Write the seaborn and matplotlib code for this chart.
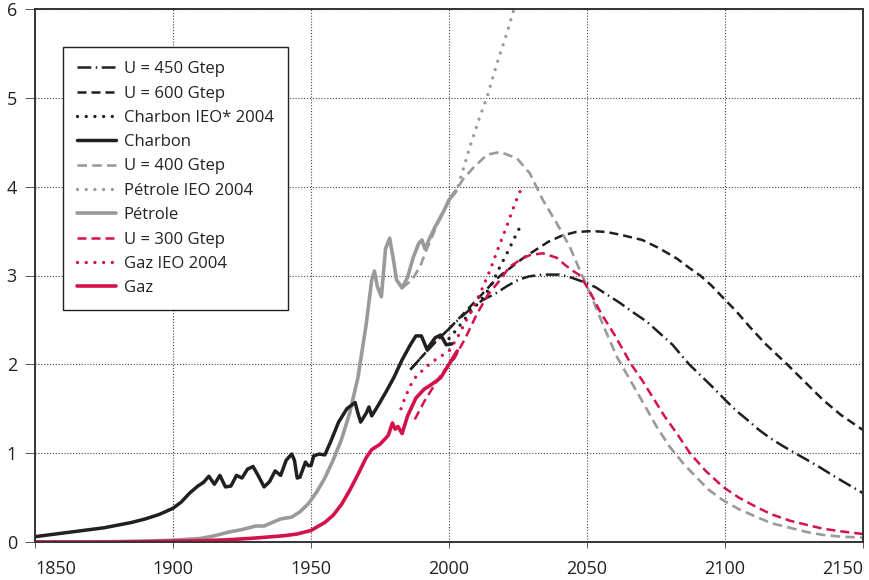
import matplotlib
matplotlib.use("Agg")
import matplotlib.pyplot as plt
import seaborn as sns
import pandas as pd

# ---------------- data (Gtep / an) ----------------
charbon_years = [1850, 1855, 1860, 1865, 1870, 1875, 1880, 1885, 1890, 1895, 1900, 1903, 1906,
                 1909, 1911, 1913, 1915, 1917, 1919, 1921, 1923, 1925, 1927, 1929, 1931, 1933,
                 1935, 1937, 1939, 1941, 1943, 1944, 1945, 1946, 1948, 1949, 1950, 1951, 1953,
                 1955, 1957, 1960, 1963, 1966, 1967, 1968, 1970, 1971, 1972, 1974, 1977, 1980,
                 1983, 1986, 1988, 1990, 1992, 1995, 1997, 1999, 2001]
charbon_vals = [0.06, 0.08, 0.10, 0.12, 0.14, 0.16, 0.19, 0.22, 0.26, 0.31, 0.38, 0.45, 0.55,
                0.63, 0.67, 0.74, 0.65, 0.75, 0.62, 0.63, 0.75, 0.72, 0.82, 0.85, 0.74, 0.62,
                0.68, 0.80, 0.75, 0.92, 0.99, 0.92, 0.72, 0.73, 0.90, 0.86, 0.86, 0.97, 0.99,
                0.98, 1.12, 1.35, 1.50, 1.57, 1.45, 1.35, 1.45, 1.52, 1.42, 1.52, 1.68, 1.85,
                2.05, 2.22, 2.32, 2.32, 2.17, 2.30, 2.33, 2.22, 2.23]

petrole_years = [1850, 1870, 1890, 1900, 1910, 1915, 1920, 1925, 1930, 1933, 1936, 1939, 1943,
                 1946, 1949, 1952, 1955, 1958, 1961, 1964, 1967, 1970, 1972, 1973, 1974, 1975.5,
                 1977, 1978.5, 1980, 1981, 1983, 1985, 1987, 1989, 1990.2, 1991.3, 1993, 1995,
                 1998, 2000, 2002.5]
petrole_vals = [0.0, 0.0, 0.01, 0.02, 0.04, 0.07, 0.11, 0.14, 0.18, 0.18, 0.22, 0.26, 0.28,
                0.34, 0.43, 0.56, 0.72, 0.92, 1.15, 1.45, 1.85, 2.45, 2.95, 3.05, 2.88, 2.76,
                3.30, 3.42, 3.15, 2.95, 2.86, 2.98, 3.20, 3.36, 3.40, 3.30, 3.42, 3.55,
                3.72, 3.85, 3.95]

gaz_years = [1850, 1880, 1900, 1910, 1920, 1930, 1940, 1945, 1950, 1955, 1958, 1961, 1964, 1967,
             1970, 1972, 1975, 1978, 1979.5, 1980.5, 1981.5, 1983, 1985, 1988, 1991, 1994, 1997,
             2000, 2003]
gaz_vals = [0.0, 0.0, 0.01, 0.015, 0.025, 0.045, 0.07, 0.09, 0.13, 0.22, 0.30, 0.42, 0.58, 0.76,
            0.95, 1.04, 1.10, 1.20, 1.34, 1.27, 1.30, 1.22, 1.42, 1.62, 1.72, 1.78, 1.85,
            2.00, 2.15]

charbon_ieo_years = [2000, 2003, 2006, 2009, 2012, 2015, 2018, 2021, 2024, 2025.8]
charbon_ieo_vals = [2.29, 2.40, 2.52, 2.63, 2.74, 2.87, 3.07, 3.25, 3.44, 3.55]

petrole_ieo_years = [2000, 2002.9, 2004.7, 2007.6, 2011.2, 2013.8, 2017.4, 2021, 2024]
petrole_ieo_vals = [3.85, 3.96, 4.15, 4.45, 4.79, 5.01, 5.39, 5.73, 6.05]

gaz_ieo_years = [1982.6, 1984, 1986, 1988, 1991, 1994, 1997, 2000, 2003, 2006, 2009, 2012, 2015,
                 2018, 2021, 2024, 2025.8]
gaz_ieo_vals = [1.50, 1.62, 1.76, 1.86, 1.95, 2.03, 2.09, 2.15, 2.30, 2.48, 2.65, 2.85, 3.07,
                3.32, 3.56, 3.82, 3.95]

u450_years = [1986, 1990, 1995, 2000, 2004, 2008, 2012, 2017, 2021, 2025, 2029, 2034, 2040,
              2044, 2048.5, 2053, 2057, 2062, 2066, 2071.7, 2076, 2081, 2087, 2091, 2095,
              2100.7, 2104, 2108.3, 2112, 2116.3, 2121, 2125.4, 2130, 2134.4, 2138, 2142.8, 2150]
u450_vals = [1.94, 2.08, 2.25, 2.40, 2.52, 2.63, 2.72, 2.80, 2.88, 2.95, 2.99, 3.01, 3.01,
             2.98, 2.93, 2.87, 2.79, 2.69, 2.60, 2.48, 2.36, 2.22, 2.00, 1.88, 1.76,
             1.58, 1.48, 1.37, 1.27, 1.17, 1.08, 1.00, 0.92, 0.84, 0.77, 0.68, 0.55]

u600_years = [1986, 1990, 1995, 2000, 2004, 2008, 2012, 2015.6, 2019, 2022, 2027, 2032, 2036,
              2041, 2046, 2052, 2057, 2062, 2066, 2070, 2076, 2082.6, 2087.3, 2091, 2095,
              2099.3, 2104, 2109, 2115, 2122.5, 2129, 2135.5, 2142, 2150]
u600_vals = [1.94, 2.08, 2.25, 2.40, 2.53, 2.66, 2.79, 2.91, 3.01, 3.08, 3.20, 3.30, 3.38,
             3.45, 3.49, 3.50, 3.49, 3.46, 3.43, 3.40, 3.31, 3.19, 3.08, 3.00, 2.89,
             2.75, 2.60, 2.42, 2.22, 2.00, 1.80, 1.60, 1.43, 1.26]

u400_years = [1983, 1986.6, 1989.5, 1992, 1995, 1998, 2001, 2003, 2005, 2008.7, 2013.8, 2018.5,
              2024.6, 2029.3, 2034, 2039, 2043.8, 2048.5, 2052.2, 2056, 2060.9, 2065.5, 2070.3,
              2075, 2080, 2085, 2089.9, 2094, 2099.3, 2105, 2111.6, 2117, 2123.5, 2130,
              2135.5, 2142, 2150]
u400_vals = [2.86, 2.95, 3.10, 3.30, 3.52, 3.72, 3.90, 3.98, 4.08, 4.21, 4.36, 4.39,
             4.32, 4.15, 3.85, 3.59, 3.32, 2.98, 2.72, 2.43, 2.08, 1.83, 1.57,
             1.31, 1.07, 0.88, 0.72, 0.59, 0.47, 0.37, 0.28, 0.21, 0.16, 0.11,
             0.08, 0.06, 0.05]

u300_years = [1987.6, 1991, 1995, 1998, 2002, 2006, 2010, 2014, 2018, 2022, 2026, 2029.3, 2034,
              2039, 2042, 2045, 2047.5, 2051, 2055, 2060, 2066, 2070, 2074, 2078, 2082.6,
              2087.3, 2093, 2099.3, 2105, 2111.6, 2117, 2123.5, 2130, 2135.5, 2142, 2150]
u300_vals = [1.38, 1.58, 1.78, 1.92, 2.07, 2.30, 2.56, 2.78, 2.93, 3.10, 3.18, 3.23, 3.25,
             3.20, 3.12, 3.05, 3.00, 2.82, 2.58, 2.33, 2.00, 1.82, 1.62, 1.42, 1.22,
             1.00, 0.80, 0.62, 0.50, 0.39, 0.31, 0.24, 0.19, 0.15, 0.12, 0.09]

x_ticks = [1850, 1900, 1950, 2000, 2050, 2100, 2150]
y_ticks = [0, 1, 2, 3, 4, 5, 6]

# ---------------- style ----------------
BLACK = "#231f20"
GREY = "#9a9a9d"
RED = "#d4124a"

sns.set_theme(style="white")
plt.rcParams["font.family"] = ["Open Sans", "DejaVu Sans"]

fig = plt.figure(figsize=(8.69, 5.80), dpi=100)
ax = fig.add_axes([35 / 869, 38 / 580, 828 / 869, 533 / 580])

DASHDOT = (0, (5.5, 1.8, 0.6, 1.8))
DASHED = (0, (3.6, 2.0))
DOTTED = (0, (0.01, 2.6))

series = [
    # label, years, values, color, linestyle, lw
    ("U = 450 Gtep", u450_years, u450_vals, BLACK, DASHDOT, 1.8),
    ("U = 600 Gtep", u600_years, u600_vals, BLACK, DASHED, 1.8),
    ("U = 400 Gtep", u400_years, u400_vals, GREY, DASHED, 1.9),
    ("U = 300 Gtep", u300_years, u300_vals, RED, DASHED, 1.8),
    ("Charbon IEO* 2004", charbon_ieo_years, charbon_ieo_vals, BLACK, DOTTED, 2.4),
    ("Pétrole IEO 2004", petrole_ieo_years, petrole_ieo_vals, GREY, DOTTED, 2.4),
    ("Gaz IEO 2004", gaz_ieo_years, gaz_ieo_vals, RED, DOTTED, 2.4),
    ("Pétrole", petrole_years, petrole_vals, GREY, "-", 2.6),
    ("Charbon", charbon_years, charbon_vals, BLACK, "-", 2.5),
    ("Gaz", gaz_years, gaz_vals, RED, "-", 2.6),
]

for label, xs, ys, color, ls, lw in series:
    df = pd.DataFrame({"annee": xs, "valeur": ys})
    sns.lineplot(data=df, x="annee", y="valeur", ax=ax, color=color, linestyle=ls,
                 linewidth=lw, label=label, sort=False, estimator=None,
                 dash_capstyle="round" if ls is DOTTED else "butt")

ax.set_xlim(1850, 2150)
ax.set_ylim(0, 6)
ax.set_xlabel("")
ax.set_ylabel("")

ax.set_xticks(x_ticks)
ax.set_yticks(y_ticks)
ax.set_xticklabels([str(v) for v in x_ticks], fontsize=13, color="#222")
ax.set_yticklabels([str(v) for v in y_ticks], fontsize=13, color="#222")
xl = ax.get_xticklabels()
xl[0].set_horizontalalignment("left")
xl[-1].set_horizontalalignment("right")

ax.tick_params(axis="y", direction="out", length=7, width=0.7, color="#555", pad=6, left=True)
ax.tick_params(axis="x", direction="out", length=4, width=0.7, color="#555", pad=9, bottom=True)

ax.grid(True, color="#444", linestyle=(0, (1, 1.6)), linewidth=0.8)
ax.set_axisbelow(True)

for sp in ax.spines.values():
    sp.set_visible(True)
    sp.set_color("#333")
    sp.set_linewidth(1.4)

# legend in reference order
order = ["U = 450 Gtep", "U = 600 Gtep", "Charbon IEO* 2004", "Charbon", "U = 400 Gtep",
         "Pétrole IEO 2004", "Pétrole", "U = 300 Gtep", "Gaz IEO 2004", "Gaz"]
handles, labels = ax.get_legend_handles_labels()
hmap = dict(zip(labels, handles))
leg = ax.legend([hmap[l] for l in order], order, loc="upper left",
                bbox_to_anchor=(28 / 828, (542 - 47) / 533), borderaxespad=0,
                fontsize=12, frameon=True, fancybox=False, framealpha=1,
                edgecolor="#222", facecolor="white", handlelength=2.35,
                handletextpad=0.45, labelspacing=0.5, borderpad=0.85)
leg.get_frame().set_linewidth(1.0)
for t in leg.get_texts():
    t.set_color("#222")

fig.savefig("out.png", dpi=100)
